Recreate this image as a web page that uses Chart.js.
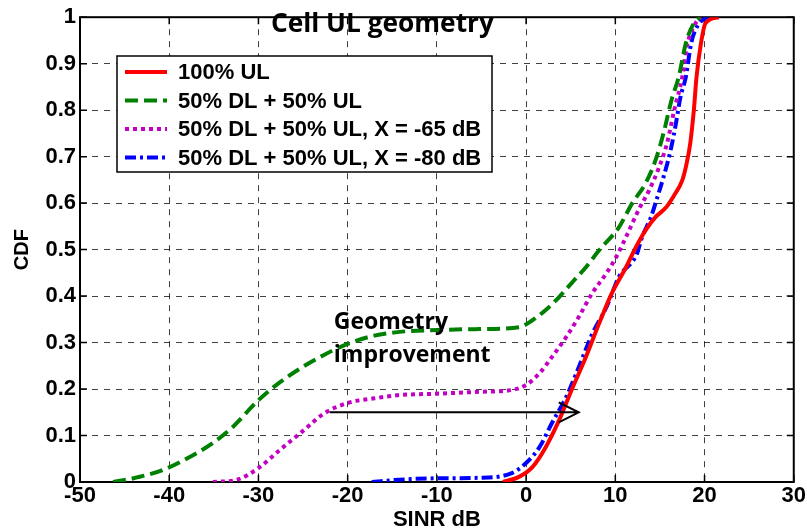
<!DOCTYPE html>
<html>
<head>
  <meta charset="utf-8">
  <title>Cell UL geometry</title>
  <script src="https://cdn.jsdelivr.net/npm/chart.js"></script>
  <style>
    body { margin: 0; background: #fff; }
    #wrap { width: 807px; height: 531px; }
  </style>
</head>
<body>
<div id="wrap"><canvas id="cdfChart" width="807" height="531"></canvas></div>

<script>
  // SINR (dB) / CDF pairs
  const ulX  = [-2.6, -0.8, 0.7, 2.2, 3.7, 5.1, 6.7, 8.2, 9.6, 11.2, 12.3, 13.4, 14.5, 15.7, 16.6, 17.5, 18.0, 18.4, 18.8, 19.1, 19.6, 20.1, 21.6];
  const ulY  = [0, 0.011, 0.032, 0.075, 0.133, 0.198, 0.269, 0.342, 0.406, 0.462, 0.505, 0.542, 0.57, 0.591, 0.617, 0.649, 0.686, 0.729, 0.80, 0.871, 0.944, 0.987, 1.0];

  const mixX = [-46.3, -44, -40.7, -37.7, -35.1, -32.9, -30, -27.5, -25, -22.5, -20, -17, -14.2, -10, -5.3, -0.8, 0.7, 2.2, 3.7, 5.1, 6.7, 8.2, 10.4, 11.9, 13.4, 14.5, 15.4, 16.3, 17.1, 17.9, 18.8, 19.5];
  const mixY = [0, 0.008, 0.026, 0.054, 0.084, 0.118, 0.176, 0.216, 0.248, 0.275, 0.297, 0.315, 0.323, 0.327, 0.329, 0.333, 0.348, 0.37, 0.398, 0.428, 0.462, 0.499, 0.548, 0.60, 0.643, 0.692, 0.75, 0.822, 0.871, 0.944, 0.987, 1.0];

  const x65X = [-35.1, -32.4, -30, -27.6, -25, -22.6, -20, -17, -14.2, -10, -5.3, -1.6, 0, 1.5, 2.9, 4.5, 5.9, 7.4, 9.0, 10.1, 11.2, 12.6, 13.8, 14.9, 15.8, 16.6, 17.5, 18.0, 19.0, 19.6];
  const x65Y = [0, 0.005, 0.03, 0.069, 0.11, 0.148, 0.17, 0.18, 0.187, 0.19, 0.194, 0.198, 0.209, 0.234, 0.269, 0.312, 0.355, 0.406, 0.449, 0.484, 0.527, 0.585, 0.628, 0.677, 0.729, 0.80, 0.871, 0.936, 0.987, 1.0];

  const x80X = [-17.3, -14.2, -10, -5.3, -1.6, 0, 1.5, 2.9, 4.5, 5.9, 7.4, 9.0, 10.4, 12.4, 13.0, 14.0, 14.6, 15.4, 16.2, 16.8, 17.3, 17.9, 18.5, 19.4, 20.5];
  const x80Y = [0, 0.005, 0.008, 0.009, 0.019, 0.041, 0.075, 0.127, 0.183, 0.247, 0.318, 0.376, 0.441, 0.49, 0.527, 0.57, 0.606, 0.656, 0.714, 0.772, 0.828, 0.871, 0.944, 0.987, 1.0];

  const seriesNames = ['100% UL', '50% DL + 50% UL', '50% DL + 50% UL, X = -65 dB', '50% DL + 50% UL, X = -80 dB'];
  const xTicks = [-50, -40, -30, -20, -10, 0, 10, 20, 30];
  const yTicks = [0, 0.1, 0.2, 0.3, 0.4, 0.5, 0.6, 0.7, 0.8, 0.9, 1];

  // annotation: arrow from the X=-65 curve over to the UL-only curve
  const arrowFromX = -22, arrowToX = 5.9, arrowY = 0.15;
  const noteLines = ['Geometry', 'improvement'];

  const toPts = (xs, ys) => xs.map((x, i) => ({ x: x, y: ys[i] }));

  const styles = [
    { color: '#ff0000', dash: [] },
    { color: '#008000', dash: [13, 6] },
    { color: '#c400c4', dash: [4, 4] },
    { color: '#0000ff', dash: [11, 4, 3, 4] }
  ];
  const seriesData = [toPts(ulX, ulY), toPts(mixX, mixY), toPts(x65X, x65Y), toPts(x80X, x80Y)];

  const datasets = seriesNames.map((name, i) => ({
    label: name,
    data: seriesData[i],
    borderColor: styles[i].color,
    backgroundColor: styles[i].color,
    borderDash: styles[i].dash,
    borderWidth: 4,
    borderCapStyle: 'butt',
    pointRadius: 0,
    cubicInterpolationMode: 'monotone',
    fill: false
  }));

  const tickFont = { family: 'Liberation Sans, Arial', size: 22, weight: 'bold' };
  const calibriLike = '"Open Sans", Lato, sans-serif';

  // box, inner ticks, legend, title and annotation
  const extras = {
    id: 'extras',
    beforeDatasetsDraw(chart) {
      const { ctx, chartArea: a } = chart;
      ctx.save();
      ctx.strokeStyle = '#000';
      ctx.lineWidth = 1.5;
      const xs = chart.scales.x, ys = chart.scales.y;
      xTicks.forEach(v => {
        const px = xs.getPixelForValue(v);
        ctx.beginPath();
        ctx.moveTo(px, a.bottom); ctx.lineTo(px, a.bottom - 7);
        ctx.moveTo(px, a.top); ctx.lineTo(px, a.top + 7);
        ctx.stroke();
      });
      yTicks.forEach(v => {
        const py = ys.getPixelForValue(v);
        ctx.beginPath();
        ctx.moveTo(a.left, py); ctx.lineTo(a.left + 7, py);
        ctx.moveTo(a.right, py); ctx.lineTo(a.right - 7, py);
        ctx.stroke();
      });
      ctx.lineWidth = 2;
      ctx.strokeRect(a.left, a.top, a.right - a.left, a.bottom - a.top);
      ctx.restore();
    },
    afterDatasetsDraw(chart) {
      const { ctx } = chart;
      const xs = chart.scales.x, ys = chart.scales.y;
      ctx.save();

      // arrow
      const x0 = xs.getPixelForValue(arrowFromX), x1 = xs.getPixelForValue(arrowToX);
      const y0 = ys.getPixelForValue(arrowY);
      ctx.strokeStyle = '#000';
      ctx.lineWidth = 2;
      ctx.beginPath();
      ctx.moveTo(x0, y0); ctx.lineTo(x1, y0);
      ctx.moveTo(x1 - 20, y0 - 10); ctx.lineTo(x1, y0); ctx.lineTo(x1 - 20, y0 + 10);
      ctx.stroke();

      // annotation text
      ctx.fillStyle = '#000';
      ctx.textBaseline = 'alphabetic';
      ctx.textAlign = 'left';
      ctx.font = 'bold 23px ' + calibriLike;
      ctx.fillText(noteLines[0], x0 + 4, ys.getPixelForValue(0.330), 120);
      ctx.fillText(noteLines[1], x0 + 4, ys.getPixelForValue(0.258), 165);

      // in-plot title
      ctx.font = 'bold 27px ' + calibriLike;
      ctx.fillText('Cell UL geometry', xs.getPixelForValue(-28.6), ys.getPixelForValue(0.968), 223);

      // legend box
      const lx = 117, ly = 56, lw = 375, lh = 116;
      ctx.fillStyle = '#fff';
      ctx.fillRect(lx, ly, lw, lh);
      ctx.strokeStyle = '#000';
      ctx.lineWidth = 1.5;
      ctx.strokeRect(lx, ly, lw, lh);
      ctx.font = 'bold 22px "Liberation Sans", Arial, sans-serif';
      ctx.textBaseline = 'middle';
      chart.data.datasets.forEach((ds, i) => {
        const ry = ly + 16 + i * 28.5;
        ctx.strokeStyle = ds.borderColor;
        ctx.lineWidth = 4;
        ctx.lineCap = 'butt';
        ctx.setLineDash(ds.borderDash);
        ctx.beginPath();
        ctx.moveTo(lx + 8, ry); ctx.lineTo(lx + 50, ry);
        ctx.stroke();
        ctx.setLineDash([]);
        ctx.fillStyle = '#000';
        ctx.fillText(ds.label, lx + 61, ry + 1);
      });
      ctx.restore();
    }
  };

  new Chart(document.getElementById('cdfChart'), {
    type: 'line',
    data: { datasets: datasets },
    options: {
      responsive: false,
      animation: false,
      devicePixelRatio: 1,
      layout: { padding: { left: 0, right: 12, top: 17, bottom: 0 } },
      plugins: { legend: { display: false }, title: { display: false }, tooltip: { enabled: false } },
      scales: {
        x: {
          type: 'linear',
          min: -50, max: 30,
          afterBuildTicks: s => { s.ticks = xTicks.map(v => ({ value: v })); },
          afterFit: s => { s.height = 49; },
          ticks: { font: tickFont, color: '#000', padding: 1, maxRotation: 0 },
          grid: { color: 'rgba(0,0,0,0.75)', lineWidth: 1, drawTicks: false },
          border: { display: false, dash: [6, 6] },
          title: { display: true, text: 'SINR dB', color: '#000', padding: { top: 0, bottom: 0 },
                   font: { family: 'Liberation Sans, Arial', size: 22, weight: 'bold', lineHeight: 1.0 } }
        },
        y: {
          min: 0, max: 1,
          afterBuildTicks: s => { s.ticks = yTicks.map(v => ({ value: v })); },
          afterFit: s => { s.width = 80; },
          ticks: { font: tickFont, color: '#000', padding: 4, callback: v => String(v) },
          grid: { color: 'rgba(0,0,0,0.75)', lineWidth: 1, drawTicks: false },
          border: { display: false, dash: [6, 6] },
          title: { display: true, text: 'CDF', color: '#000', padding: { top: 10, bottom: 0 },
                   font: { family: 'Liberation Sans, Arial', size: 20, weight: 'bold' } }
        }
      }
    },
    plugins: [extras]
  });
</script>
</body>
</html>
